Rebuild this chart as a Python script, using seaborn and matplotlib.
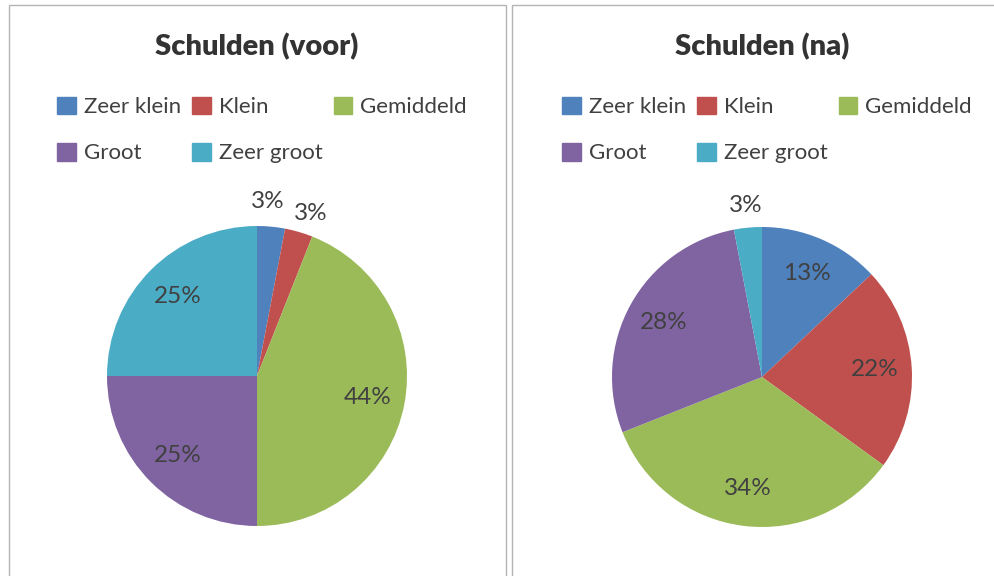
import numpy as np
import matplotlib
matplotlib.use("Agg")
import matplotlib.pyplot as plt
import seaborn as sns
from matplotlib.patches import Rectangle, Patch

categories = ["Zeer klein", "Klein", "Gemiddeld", "Groot", "Zeer groot"]
voor = [3, 3, 44, 25, 25]
na = [13, 22, 34, 28, 3]
titles = ["Schulden (voor)", "Schulden (na)"]
colors = ["#4F81BD", "#C0504D", "#9BBB59", "#8064A2", "#4BACC6"]

sns.set_theme(style="white")
plt.rcParams["font.family"] = ["Lato", "DejaVu Sans"]
palette = sns.color_palette(colors)

W, H = 995, 576
fig = plt.figure(figsize=(W / 100, H / 100), dpi=100)
fig.patch.set_facecolor("white")

# panel frames (pixels from top-left)
border = "#b4b4b4"
fig.add_artist(Rectangle((9 / W, -0.1), (506 - 9) / W, 1.1 - 5 / H,
                         transform=fig.transFigure, fill=False, ec=border, lw=1))
fig.add_artist(Rectangle((512 / W, -0.1), 0.6, 1.1 - 5 / H,
                         transform=fig.transFigure, fill=False, ec=border, lw=1))

centers = [(257, 376), (762, 377)]
radius = 150
text_col = "#404040"


def draw_pie(cx, cy, values, title):
    ax = fig.add_axes([(cx - radius) / W, (H - cy - radius) / H,
                       2 * radius / W, 2 * radius / H])
    wedges, _ = ax.pie(values, colors=palette, startangle=90, counterclock=False,
                       radius=1, wedgeprops=dict(linewidth=0))
    ax.set_xlim(-1, 1)
    ax.set_ylim(-1, 1)
    ax.set_aspect("equal")
    ax.axis("off")
    pos = []
    for w, v in zip(wedges, values):
        mid = np.deg2rad((w.theta1 + w.theta2) / 2)
        r = 1.15 if v < 5 else 0.75
        pos.append([r * np.cos(mid), r * np.sin(mid)])
    # push neighbouring outside labels apart
    for i in range(len(values) - 1):
        if values[i] < 5 and values[i + 1] < 5:
            gap = pos[i + 1][0] - pos[i][0]
            if abs(gap) < 0.29:
                shift = (0.29 - abs(gap)) / 2
                pos[i][0] -= shift
                pos[i + 1][0] += shift
                pos[i][1] += 0.02
                pos[i + 1][1] -= 0.02
    for (x, y), v in zip(pos, values):
        ax.text(x, y, f"{v}%", ha="center", va="center", fontsize=17.5,
                color=text_col, clip_on=False)
    fig.text(cx / W, 1 - 47 / H, title, ha="center", va="center",
             fontsize=21, fontweight="heavy", color="#333333")
    handles = [Patch(color=c, label=l) for c, l in zip(palette, categories)]
    order = [0, 3, 1, 4, 2]
    fig.legend(handles=[handles[i] for i in order], ncol=3, loc="center",
               bbox_to_anchor=((cx + 5) / W, 1 - 130 / H), frameon=False,
               fontsize=16, labelcolor=text_col, handlelength=0.85,
               handleheight=0.85, handletextpad=0.35, columnspacing=0.5,
               labelspacing=1.15)


draw_pie(*centers[0], voor, titles[0])
draw_pie(*centers[1], na, titles[1])

fig.savefig("out.png", dpi=100, facecolor="white")
